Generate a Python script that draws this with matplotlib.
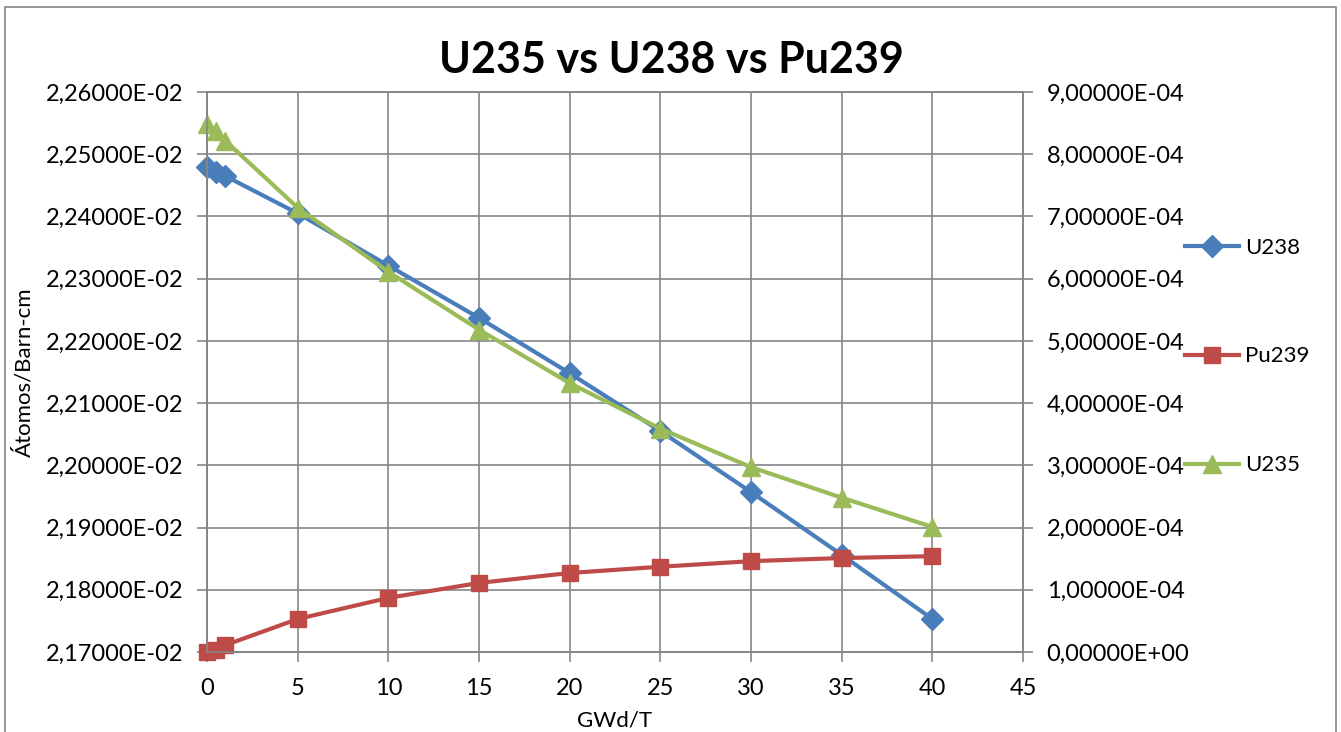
import numpy as np
import matplotlib.pyplot as plt
from matplotlib.patches import Rectangle
from matplotlib.ticker import FuncFormatter, MultipleLocator

plt.rcParams['font.family'] = ['Lato', 'DejaVu Sans']

# burnup steps (GWd/T)
burnup = [0, 0.5, 1, 5, 10, 15, 20, 25, 30, 35, 40]

# atom densities (atoms/barn-cm)
u238 = [2.2480e-2, 2.2472e-2, 2.2465e-2, 2.2405e-2, 2.2321e-2, 2.2237e-2,
        2.2148e-2, 2.2055e-2, 2.1957e-2, 2.1856e-2, 2.1753e-2]
pu239 = [0.0, 0.03e-4, 0.11e-4, 0.53e-4, 0.87e-4, 1.11e-4,
         1.27e-4, 1.37e-4, 1.46e-4, 1.51e-4, 1.54e-4]
u235 = [8.49e-4, 8.38e-4, 8.22e-4, 7.14e-4, 6.11e-4, 5.18e-4,
        4.32e-4, 3.59e-4, 2.97e-4, 2.48e-4, 2.01e-4]

grey = '#868686'
blue = '#4A7EBB'
red = '#BE4B48'
green = '#9BBB59'


def sci_comma(v, pos):
    return ('%.5E' % v).replace('.', ',')


fig = plt.figure(figsize=(13.41, 7.32), dpi=100)
ax = fig.add_axes([0.1544, 0.1093, 0.7629 - 0.1544, 0.8743 - 0.1093])
ax2 = ax.twinx()

l1, = ax.plot(burnup, u238, color=blue, lw=3, marker='D', ms=11,
              label='U238', clip_on=False)
l2, = ax2.plot(burnup, pu239, color=red, lw=3, marker='s', ms=12,
               label='Pu239', clip_on=False)
l3, = ax2.plot(burnup, u235, color=green, lw=3, marker='^', ms=13,
               label='U235', clip_on=False)

ax.set_xlim(0, 45)
ax.set_ylim(0.0217, 0.0226)
ax2.set_ylim(0, 9e-4)
ax.xaxis.set_major_locator(MultipleLocator(5))
ax.yaxis.set_major_locator(MultipleLocator(1e-4))
ax2.yaxis.set_major_locator(MultipleLocator(1e-4))
ax.yaxis.set_major_formatter(FuncFormatter(sci_comma))
ax2.yaxis.set_major_formatter(FuncFormatter(sci_comma))

ax.grid(True, color=grey, lw=1.2)
ax.set_axisbelow(True)
for a in (ax, ax2):
    for s in a.spines.values():
        s.set_color(grey)
        s.set_linewidth(1.2)
    a.tick_params(colors=grey, labelcolor='black', labelsize=17,
                  width=1.2, length=7, pad=10)
ax.tick_params(axis='x', pad=12)

ax.set_xlabel('GWd/T', fontsize=16, labelpad=8)
ax.set_ylabel('Átomos/Barn-cm', fontsize=16, labelpad=8)
fig.text(0.501, 0.918, 'U235 vs U238 vs Pu239', ha='center', va='center',
         fontsize=31, fontweight='bold')

fig.legend(handles=[l1, l2, l3], loc='center left',
           bbox_to_anchor=(0.884, 0.513), frameon=False, fontsize=16,
           labelspacing=4.0, handlelength=2.4, handletextpad=0.3,
           borderaxespad=0, borderpad=0)

fig.add_artist(Rectangle((0.0037, -0.01), 0.9926, 1.0004,
                         transform=fig.transFigure, fill=False,
                         edgecolor=grey, lw=1.2))

fig.savefig('out.png', dpi=100)
